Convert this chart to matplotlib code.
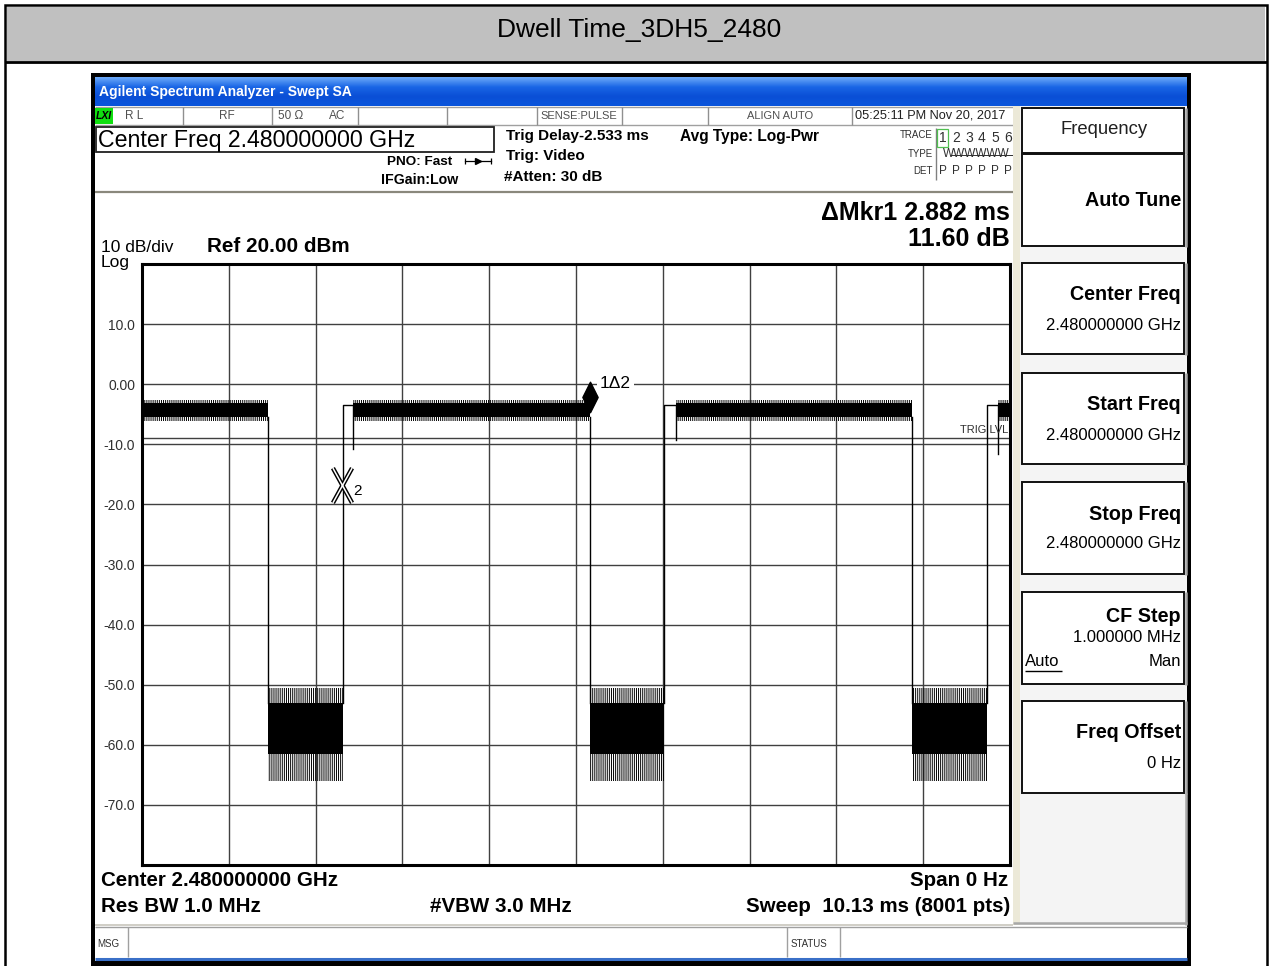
import numpy as np
import matplotlib.pyplot as plt
from matplotlib.patches import Rectangle
from matplotlib.path import Path
from matplotlib.colors import LinearSegmentedColormap

plt.rcParams['font.family'] = ['Liberation Sans', 'DejaVu Sans']
plt.rcParams['hatch.linewidth'] = 0.7

# ---- trace data (zero span sweep, ms / dBm) ----
sweep_ms = 10.13
ref_level = 20.0
db_per_div = 10.0
y_labels = ['', '-70.0', '-60.0', '-50.0', '-40.0', '-30.0', '-20.0',
            '-10.0', '0.00', '10.0', '']

# packet (burst on) segments
on_start = [0.0, 2.462, 6.232, 9.990]
on_stop = [1.470, 5.228, 8.986, 10.13]
on_core = [-5.5, -3.2]
on_env = [-6.2, -2.6]

# noise floor (burst off) segments
off_start = [1.470, 5.228, 8.986]
off_stop = [2.346, 6.092, 9.862]
off_core = [-61.5, -53.0]
off_env = [-66.0, -50.5]

# small step + dip right after each rising edge
step_end = [2.462, 6.232, 9.990]
step_level = -3.5
dip_level = [-10.8, -9.3, -11.6]

trig_level = -9.0
mkr2 = (2.334, -16.8)
mkr1 = (5.228, -2.1)

# ---- figure + pixel background axes ----
fig = plt.figure(figsize=(12.72, 9.66), dpi=100)
bg = fig.add_axes([0, 0, 1, 1])
bg.set_zorder(0)


def box(x0, y0, x1, y1, fc='none', ec='none', lw=0.0, z=1):
    bg.add_patch(Rectangle((x0, y0), x1 - x0, y1 - y0, facecolor=fc,
                           edgecolor=ec, linewidth=lw, zorder=z))


def hline(y, x0, x1, c='black', lw=1.0, z=2):
    bg.plot([x0, x1], [y, y], color=c, lw=lw, zorder=z, solid_capstyle='butt')


def vline(x, y0, y1, c='black', lw=1.0, z=2):
    bg.plot([x, x], [y0, y1], color=c, lw=lw, zorder=z, solid_capstyle='butt')


def txt(x, y, s, size, ha='left', weight='normal', color='black', **kw):
    bg.text(x, y, s, fontsize=size, ha=ha, va='center', fontweight=weight,
            color=color, zorder=5, **kw)


# outer report frame
box(5, 5, 1267, 990, fc='white', ec='black', lw=1.8)
box(7, 7, 1265, 61, fc='#c0c0c0')
hline(62, 5, 1267, lw=2.0)
txt(639, 30, 'Dwell Time_3DH5_2480', 19, ha='center')

# analyzer window
box(91, 73, 1191, 990, fc='black')
box(95, 77, 1187, 961, fc='white')
grad = np.linspace(0, 1, 30).reshape(-1, 1)
blue = LinearSegmentedColormap.from_list('xp', ['#6aa8f8', '#1a66e6', '#0a4fd6', '#0a55dc'])
bg.imshow(grad, extent=(95, 1187, 106, 77), aspect='auto', cmap=blue, zorder=2)
txt(99, 92, 'Agilent Spectrum Analyzer - Swept SA', 10, weight='bold', color='white')

# status row
box(95, 106, 1187, 125, fc='white', z=2)
hline(107, 95, 1013, c='#a0a0a0')
hline(125, 95, 1013, c='#a0a0a0')
for xs in [183, 272, 358, 447, 537, 622, 708, 852]:
    vline(xs, 107, 125, c='#909090')
box(95, 108, 113, 124, fc='#10e010', z=3)
txt(104, 116, 'LXI', 7.5, ha='center', weight='bold', style='italic')
gray = '#505050'
txt(125, 116, 'R L', 8.5, color=gray)
txt(219, 116, 'RF', 8.5, color=gray)
txt(278, 116, '50 \u03a9', 8.5, color=gray)
txt(329, 116, 'AC', 8.5, color=gray)
txt(540, 116, 'SENSE:PULSE', 8, color=gray)
txt(747, 116, 'ALIGN AUTO', 8, color=gray)
txt(855, 116, '05:25:11 PM Nov 20, 2017', 9.2, color='#202020')

# measurement info block
box(96, 127, 494, 152, ec='#202020', lw=1.3, z=3)
txt(98, 140, 'Center Freq 2.480000000 GHz', 16.7)
txt(387, 162, 'PNO: Fast', 9.7, weight='bold')
bg.plot([465, 491], [161, 161], color='black', lw=0.9, zorder=4)
bg.plot([478], [161], marker='>', color='black', ms=5, zorder=4)
vline(465, 158, 164, lw=0.9)
vline(491, 158, 164, lw=0.9)
txt(381, 180, 'IFGain:Low', 10.2, weight='bold')
txt(506, 136, 'Trig Delay-2.533 ms', 11, weight='bold')
txt(506, 156, 'Trig: Video', 11, weight='bold')
txt(504, 177, '#Atten: 30 dB', 11, weight='bold')
txt(680, 136, 'Avg Type: Log-Pwr', 11.2, weight='bold')

txt(933, 135, 'TRACE', 7, ha='right', color='#303030')
txt(933, 154, 'TYPE', 7, ha='right', color='#303030')
txt(933, 171, 'DET', 7, ha='right', color='#303030')
vline(936, 128, 180, c='#808080')
trace_x = [943, 956, 969, 982, 995, 1008]
for i, xn in enumerate(trace_x):
    txt(xn, 138, str(i + 1), 10, ha='center', color='#303030')
    txt(xn, 171, 'P', 8.5, ha='center', color='#303030')
box(937, 129, 948, 147, ec='#50c050', lw=0.9, z=4)
txt(976, 154, 'WWWWWW', 8.5, ha='center', color='#303030')
hline(154.5, 950, 1013, c='#303030', lw=0.7)
hline(192, 95, 1013, c='#8a887c', lw=1.6)

# graph header / footer text
txt(1010, 213, '\u0394Mkr1 2.882 ms', 18, ha='right', weight='bold')
txt(1010, 239, '11.60 dB', 18, ha='right', weight='bold')
txt(101, 247, '10 dB/div', 12.5)
txt(101, 262, 'Log', 12.5)
txt(207, 246, 'Ref 20.00 dBm', 14.9, weight='bold')
txt(101, 881, 'Center 2.480000000 GHz', 14.8, weight='bold')
txt(101, 906, 'Res BW 1.0 MHz', 14.8, weight='bold')
txt(430, 906, '#VBW 3.0 MHz', 14.8, weight='bold')
txt(1008, 881, 'Span 0 Hz', 14.8, ha='right', weight='bold')
txt(1010, 906, 'Sweep  10.13 ms (8001 pts)', 14.8, ha='right', weight='bold')

# message bar
hline(925, 95, 1013, c='#c8c6bc', lw=1.2)
hline(927, 95, 1187, c='#a0a0a0', lw=1.0)
for xs in [128, 787, 840]:
    vline(xs, 927, 957, c='#a0a0a0')
txt(97, 944, 'MSG', 7, color='#303030')
txt(791, 944, 'STATUS', 7, color='#303030')
hline(959, 95, 1187, c='#3a70c8', lw=2.2, z=3)

# softkey panel
box(1013, 106, 1020, 925, fc='#ece9d8', z=2)
box(1020, 106, 1187, 925, fc='#f4f4f4', z=2)
keys = [(108, 153), (154, 246), (263, 354), (373, 464), (482, 574), (592, 684), (701, 793)]
for top, bot in keys:
    box(1022, top, 1184, bot, fc='white', ec='#101010', lw=1.4, z=3)
    vline(1185.5, top, bot + 1, c='#a8a8a8', lw=1.8, z=3)
vline(1185.5, 793, 925, c='#a8a8a8', lw=1.8, z=3)
hline(923, 1013, 1187, c='#a8a8a8', lw=1.8, z=3)
txt(1104, 129, 'Frequency', 13.3, ha='center', color='#202020')
txt(1181, 200, 'Auto Tune', 14.2, ha='right', weight='bold')
txt(1181, 295, 'Center Freq', 14.2, ha='right', weight='bold')
txt(1181, 325, '2.480000000 GHz', 12, ha='right')
txt(1181, 405, 'Start Freq', 14.2, ha='right', weight='bold')
txt(1181, 435, '2.480000000 GHz', 12, ha='right')
txt(1181, 515, 'Stop Freq', 14.2, ha='right', weight='bold')
txt(1181, 544, '2.480000000 GHz', 12, ha='right')
txt(1181, 616, 'CF Step', 14.2, ha='right', weight='bold')
txt(1181, 638, '1.000000 MHz', 12, ha='right')
txt(1025, 662, 'Auto', 12)
hline(671, 1025, 1062, lw=1.0, z=4)
txt(1181, 662, 'Man', 12, ha='right')
txt(1181, 733, 'Freq Offset', 14.2, ha='right', weight='bold')
txt(1181, 763, '0 Hz', 12, ha='right')

bg.set_xlim(0, 1272)
bg.set_ylim(966, 0)
bg.axis('off')

# ---- trace axes ----
ax = fig.add_axes([142 / 1272, (966 - 865) / 966, 868 / 1272, 601 / 966])
ax.set_zorder(2)
ax.set_facecolor('white')
ax.set_xlim(0, sweep_ms)
ax.set_ylim(ref_level - 10 * db_per_div, ref_level)
ax.set_xticks(np.linspace(0, sweep_ms, 11))
ax.set_xticklabels([])
ax.set_yticks(np.arange(ref_level - 10 * db_per_div, ref_level + 1, db_per_div))
ax.set_yticklabels(y_labels)
ax.tick_params(length=0, pad=5, labelsize=10, labelcolor='#303030')
ax.grid(True, color='#404040', lw=1.0)
ax.set_axisbelow(True)
for sp in ax.spines.values():
    sp.set_linewidth(2.2)
    sp.set_color('black')

ax.axhline(trig_level, color='#404040', lw=1.0, zorder=1.5)
ax.text(sweep_ms - 0.02, trig_level + 0.6, 'TRIG LVL', ha='right', va='bottom',
        fontsize=8, color='#303030')

# noisy trace drawn as a solid core band plus a hatched spike envelope
for s, e in zip(on_start, on_stop):
    ax.fill_between([s, e], on_env[0], on_env[1], facecolor='none',
                    edgecolor='black', hatch='||||||||', lw=0)
    ax.fill_between([s, e], on_core[0], on_core[1], color='black', lw=0)
for s, e in zip(off_start, off_stop):
    ax.fill_between([s, e], off_env[0], off_env[1], facecolor='none',
                    edgecolor='black', hatch='||||||||', lw=0)
    ax.fill_between([s, e], off_core[0], off_core[1], color='black', lw=0)

for t in on_stop[:-1]:
    ax.plot([t, t], [on_core[0], off_core[1]], color='black', lw=1.0)
for t0, t1, d in zip(off_stop, step_end, dip_level):
    ax.plot([t0, t0, t1, t1], [off_core[1], step_level, step_level, d],
            color='black', lw=1.0)

# delta marker 2 (reference) : double-lined X
xmark = Path([(-0.55, -1), (0.55, 1), (-0.55, 1), (0.55, -1)],
             [Path.MOVETO, Path.LINETO, Path.MOVETO, Path.LINETO])
ax.plot(*mkr2, marker=xmark, ms=25, mec='black', mew=3.2, ls='none', zorder=5)
ax.plot(*mkr2, marker=xmark, ms=25, mec='white', mew=1.1, ls='none', zorder=6)
ax.annotate('2', xy=mkr2, xytext=(16, -6), textcoords='offset pixels',
            ha='center', va='center', fontsize=11, zorder=6)

# marker 1 : diamond
diamond = Path([(0, 1), (0.5, 0), (0, -1), (-0.5, 0), (0, 1)],
               [Path.MOVETO, Path.LINETO, Path.LINETO, Path.LINETO, Path.CLOSEPOLY])
ax.plot(*mkr1, marker=diamond, ms=22, mfc='black', mec='black', ls='none', zorder=6)
ax.annotate('1\u03942', xy=mkr1, xytext=(10, 13), textcoords='offset pixels',
            ha='left', va='center', fontsize=12.5, zorder=6,
            bbox=dict(boxstyle='square,pad=0.15', fc='white', ec='none'))

fig.savefig('out.png', dpi=100)
